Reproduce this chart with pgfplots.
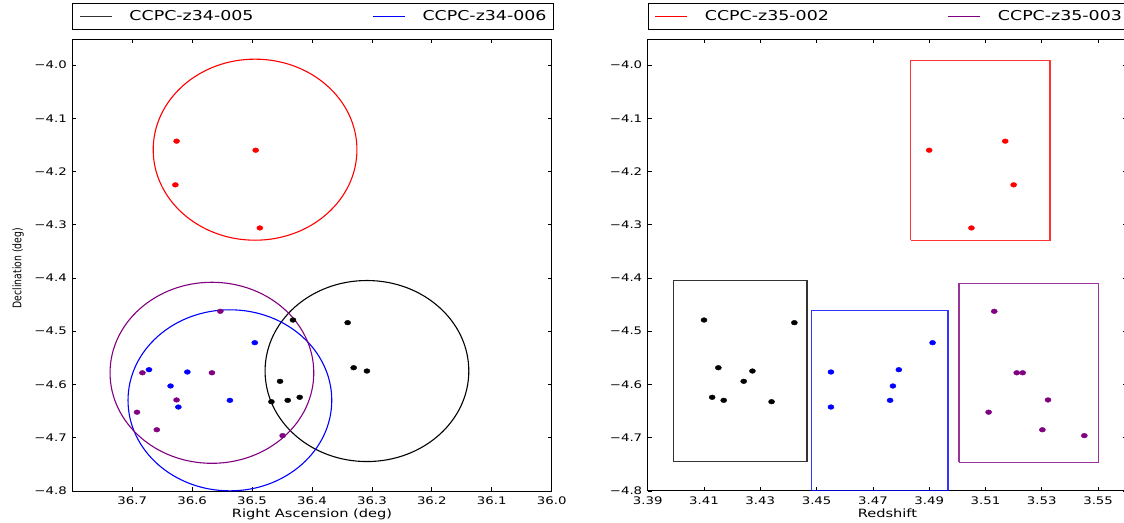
\documentclass[border=0pt]{standalone}
\usepackage{pgfplots}
\usepackage{pgfplotstable}
\pgfplotsset{compat=1.18}
\usepackage{fontspec}
\setmainfont{DejaVu Sans}
\newfontfamily\wfont[FakeStretch=1.28]{DejaVu Sans}
\newcommand\tickfont{\wfont\fontsize{10.4}{12}\selectfont}
\newcommand\legfont{\wfont\fontsize{13.6}{16}\selectfont}
\newcommand\labfont{\wfont\fontsize{11.4}{13}\selectfont}
\definecolor{mpurple}{RGB}{128,0,128}

\pgfplotstableread{
ra dec z
36.4317 -4.4789 3.4100
36.3405 -4.4839 3.4421
36.3305 -4.5685 3.4151
36.3083 -4.5747 3.4272
36.4533 -4.5940 3.4241
36.4205 -4.6240 3.4129
36.4405 -4.6297 3.4170
36.4677 -4.6323 3.4340
}\blackdata
\pgfplotstableread{
ra dec z
36.4955 -4.5215 3.4912
36.6720 -4.5722 3.4792
36.6080 -4.5765 3.4551
36.6360 -4.6028 3.4771
36.5370 -4.6297 3.4761
36.6230 -4.6423 3.4551
}\bluedata
\pgfplotstableread{
ra dec z
36.626 -4.143 3.517
36.494 -4.160 3.490
36.628 -4.225 3.520
36.487 -4.306 3.505
}\reddata
\pgfplotstableread{
ra dec z
36.553 -4.4625 3.5131
36.683 -4.5780 3.5211
36.567 -4.5780 3.5232
36.626 -4.6290 3.5322
36.692 -4.6520 3.5111
36.659 -4.6850 3.5302
36.449 -4.6960 3.5451
}\purpledata

\pgfplotsset{
  common/.style={
    scale only axis, width=479.4pt, height=451.7pt,
    ymin=-4.8, ymax=-3.9517,
    ytick={-4.8,-4.7,-4.6,-4.5,-4.4,-4.3,-4.2,-4.1,-4.0},
    yticklabels={−4.8,−4.7,−4.6,−4.5,−4.4,−4.3,−4.2,−4.1,−4.0},
    tick align=inside, major tick length=4pt,
    every tick/.style={black, line width=0.8pt},
    axis line style={black, line width=1pt},
    tick label style={font=\tickfont},
    yticklabel style={inner xsep=5.3pt},
    xticklabel style={inner ysep=5.5pt},
    every axis x label/.style={at={(axis description cs:0.5,0)}, anchor=north, yshift=-17.5pt, inner sep=0pt, font=\labfont},
    legend style={at={(axis description cs:0,1)}, anchor=south west, yshift=9.3pt,
      draw=black, line width=1pt, inner xsep=6.7pt, inner ysep=7pt, font=\legfont,
      nodes={inner sep=0pt},
      /tikz/every odd column/.append style={column sep=17pt},
      /tikz/every even column/.append style={column sep=119pt}},
    legend columns=2, legend cell align=left,
    legend image code/.code={\path (0pt,0pt) -- (32pt,0pt); \draw[##1, line width=1pt] (6pt,0pt) -- (32pt,0pt);},
  },
  pts/.style={only marks, mark=*, mark size=2.35pt, mark options={xscale=1.3}, forget plot},
  rect/.style={no marks, sharp plot, line width=1.4pt, opacity=0.8, line join=miter, forget plot},
}

\begin{document}
\begin{tikzpicture}
\useasboundingbox (0,0) rectangle (1124pt,522pt);
% ---------------- left axis
\begin{axis}[common, at={(72.3pt,31pt)}, anchor=south west,
  x dir=reverse, xmin=36.0, xmax=36.8,
  xtick={36.0,36.1,36.2,36.3,36.4,36.5,36.6,36.7},
  xticklabels={36.0,36.1,36.2,36.3,36.4,36.5,36.6,36.7},
  xlabel={Right Ascension (deg)},
  ylabel={\fontsize{9.26}{11}\selectfont Declination (deg)},
  every axis y label/.style={at={([xshift=-48.3pt,yshift=-3pt]axis description cs:0,0.5)}, rotate=90, yscale=1.28, anchor=south, inner sep=0pt},
]
\addlegendimage{black!80}
\addlegendentry{CCPC-z34-005}
\addlegendimage{blue}
\addlegendentry{CCPC-z34-006}
\addplot[pts, black] table[x=ra, y=dec] {\blackdata};
\addplot[pts, blue] table[x=ra, y=dec] {\bluedata};
\addplot[pts, red] table[x=ra, y=dec] {\reddata};
\addplot[pts, mpurple] table[x=ra, y=dec] {\purpledata};
\draw[black, line width=1.1pt] (axis cs:36.3083,-4.5747) ellipse [x radius=0.17, y radius=0.17];
\draw[blue, line width=1.1pt] (axis cs:36.537,-4.6297) ellipse [x radius=0.17, y radius=0.17];
\draw[red, line width=1.1pt] (axis cs:36.495,-4.159) ellipse [x radius=0.17, y radius=0.17];
\draw[mpurple, line width=1.1pt] (axis cs:36.567,-4.578) ellipse [x radius=0.17, y radius=0.17];
\end{axis}
% ---------------- right axis
\begin{axis}[common, at={(647.7pt,31pt)}, anchor=south west,
  xmin=3.39, xmax=3.5603,
  xtick={3.39,3.41,3.43,3.45,3.47,3.49,3.51,3.53,3.55},
  xticklabels={3.39,3.41,3.43,3.45,3.47,3.49,3.51,3.53,3.55},
  xlabel={Redshift},
]
\addlegendimage{red}
\addlegendentry{CCPC-z35-002}
\addlegendimage{mpurple}
\addlegendentry{CCPC-z35-003}
\addplot[rect, black] coordinates {(3.3991,-4.745) (3.4466,-4.745) (3.4466,-4.4043) (3.3991,-4.4043) (3.3991,-4.745)};
\addplot[rect, blue] coordinates {(3.4481,-4.799) (3.4967,-4.799) (3.4967,-4.4607) (3.4481,-4.4607) (3.4481,-4.799)};
\addplot[rect, red] coordinates {(3.4834,-4.329) (3.5329,-4.329) (3.5329,-3.991) (3.4834,-3.991) (3.4834,-4.329)};
\addplot[rect, mpurple] coordinates {(3.5006,-4.746) (3.5501,-4.746) (3.5501,-4.4107) (3.5006,-4.4107) (3.5006,-4.746)};
\addplot[pts, black] table[x=z, y=dec] {\blackdata};
\addplot[pts, blue] table[x=z, y=dec] {\bluedata};
\addplot[pts, red] table[x=z, y=dec] {\reddata};
\addplot[pts, mpurple] table[x=z, y=dec] {\purpledata};
\end{axis}
\end{tikzpicture}
\end{document}
